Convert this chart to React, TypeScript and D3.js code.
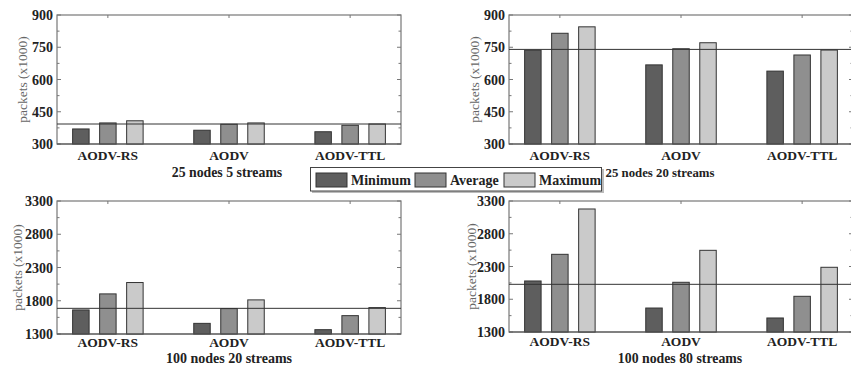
import React, { useEffect, useRef } from "react";
import * as d3 from "d3";

const categories = ["AODV-RS", "AODV", "AODV-TTL"];
const series = ["Minimum", "Average", "Maximum"];
const colors = ["#5e5e5e", "#8f8f8f", "#cacaca"];

const titles = [
  "25 nodes 5 streams",
  "25 nodes 20 streams",
  "100 nodes 20 streams",
  "100 nodes 80 streams",
];

const ticks25 = [300, 450, 600, 750, 900];
const ticks100 = [1300, 1800, 2300, 2800, 3300];

// [min, avg, max] per category
const nodes25s5 = [
  [370, 398, 408],
  [364, 392, 398],
  [357, 387, 393],
];
const nodes25s20 = [
  [736, 815, 845],
  [668, 743, 771],
  [639, 714, 737],
];
const nodes100s20 = [
  [1662, 1903, 2074],
  [1460, 1682, 1813],
  [1365, 1576, 1697],
];
const nodes100s80 = [
  [2079, 2486, 3178],
  [1666, 2059, 2547],
  [1514, 1845, 2288],
];
const refLines = [393, 740, 1686, 2028];

const W = 851;
const H = 366;
const FONT = "'Liberation Serif', 'Times New Roman', serif";

export default function App() {
  const svgRef = useRef<SVGSVGElement>(null);

  useEffect(() => {
    const svg = d3.select(svgRef.current).attr("width", W).attr("height", H);
    svg.selectAll("*").remove();

    const panels = [
      { data: nodes25s5, ticks: ticks25, x0: 57, x1: 401, y0: 15, y1: 144, yl: 22, tx: 227, lblY: 160, subY: 177, subSize: 13.8 },
      { data: nodes25s20, ticks: ticks25, x0: 509, x1: 853, y0: 15, y1: 144, yl: 474, tx: 660, lblY: 160, subY: 177, subSize: 12.8 },
      { data: nodes100s20, ticks: ticks100, x0: 57, x1: 401, y0: 201, y1: 334, yl: 17, tx: 229, lblY: 346.5, subY: 363, subSize: 14 },
      { data: nodes100s80, ticks: ticks100, x0: 509, x1: 853, y0: 201, y1: 332, yl: 471, tx: 680, lblY: 346, subY: 363, subSize: 13.8 },
    ];

    const inner = d3.scaleBand().domain(series).range([-35.25, 35.25]).paddingInner(0.39).paddingOuter(0);

    panels.forEach((p, pi) => {
      const x = d3.scalePoint().domain(categories).range([p.x0, p.x1]).padding(0.42);
      const y = d3
        .scaleLinear()
        .domain([p.ticks[0], p.ticks[p.ticks.length - 1]])
        .range([p.y1, p.y0]);
      const g = svg.append("g");

      // frame
      g.append("rect")
        .attr("x", p.x0)
        .attr("y", p.y0)
        .attr("width", p.x1 - p.x0)
        .attr("height", p.y1 - p.y0)
        .attr("fill", "#fff")
        .attr("stroke", "#777")
        .attr("stroke-width", 1.2);

      // minor + major ticks on left and right
      const step = p.ticks[1] - p.ticks[0];
      const allTicks = d3.range(p.ticks[0], p.ticks[p.ticks.length - 1] + 1, step / 2);
      allTicks.forEach((t, i) => {
        const len = i % 2 === 0 ? 4 : 2.5;
        g.append("line")
          .attr("x1", p.x0).attr("x2", p.x0 + len)
          .attr("y1", y(t)).attr("y2", y(t))
          .attr("stroke", "#777");
        g.append("line")
          .attr("x1", p.x1).attr("x2", p.x1 - len)
          .attr("y1", y(t)).attr("y2", y(t))
          .attr("stroke", "#777");
      });

      // category ticks on top
      categories.forEach((c) => {
        g.append("line")
          .attr("x1", x(c)).attr("x2", x(c))
          .attr("y1", p.y0).attr("y2", p.y0 + 3)
          .attr("stroke", "#777");
      });

      // bars
      p.data.forEach((vals, ci) => {
        vals.forEach((v, si) => {
          const bx = (x(categories[ci]) as number) + (inner(series[si]) as number);
          g.append("rect")
            .attr("x", bx)
            .attr("y", y(v))
            .attr("width", inner.bandwidth())
            .attr("height", p.y1 - y(v))
            .attr("fill", colors[si])
            .attr("stroke", "#333")
            .attr("stroke-width", 1);
        });
      });

      // reference line
      g.append("line")
        .attr("x1", p.x0)
        .attr("x2", p.x1)
        .attr("y1", y(refLines[pi]))
        .attr("y2", y(refLines[pi]))
        .attr("stroke", "#333")
        .attr("stroke-width", 1);

      // bottom axis line darker
      g.append("line")
        .attr("x1", p.x0).attr("x2", p.x1)
        .attr("y1", p.y1).attr("y2", p.y1)
        .attr("stroke", "#555")
        .attr("stroke-width", 1.2);

      // y tick labels
      g.selectAll(".yt")
        .data(p.ticks)
        .enter()
        .append("text")
        .attr("x", p.x0 - 4)
        .attr("y", (d) => y(d) + 5)
        .attr("text-anchor", "end")
        .attr("font-family", FONT)
        .attr("font-size", "14px")
        .attr("font-weight", "bold")
        .attr("fill", "#222")
        .text((d) => d);

      // category labels
      g.selectAll(".xt")
        .data(categories)
        .enter()
        .append("text")
        .attr("x", (d) => x(d) as number)
        .attr("y", p.lblY)
        .attr("text-anchor", "middle")
        .attr("font-family", FONT)
        .attr("font-size", "13.5px")
        .attr("font-weight", "bold")
        .attr("fill", "#222")
        .text((d) => d);

      // subtitle
      g.append("text")
        .attr("x", p.tx)
        .attr("y", p.subY)
        .attr("text-anchor", "middle")
        .attr("font-family", FONT)
        .attr("font-size", p.subSize + "px")
        .attr("font-weight", "bold")
        .attr("fill", "#222")
        .text(titles[pi]);

      // y title
      g.append("text")
        .attr("transform", `translate(${p.yl}, ${(p.y0 + p.y1) / 2}) rotate(-90)`)
        .attr("dy", "0.35em")
        .attr("text-anchor", "middle")
        .attr("font-family", FONT)
        .attr("font-size", "13.5px")
        .attr("fill", "#666")
        .text("packets (x1000)");
    });

    // legend
    const lg = svg.append("g");
    lg.append("rect")
      .attr("x", 312).attr("y", 169)
      .attr("width", 292).attr("height", 24)
      .attr("fill", "#bbb");
    lg.append("rect")
      .attr("x", 310.5).attr("y", 167.5)
      .attr("width", 291).attr("height", 23.5)
      .attr("fill", "#fff")
      .attr("stroke", "#444")
      .attr("stroke-width", 1);
    const swX = [316, 415, 504];
    series.forEach((s, i) => {
      lg.append("rect")
        .attr("x", swX[i]).attr("y", 173)
        .attr("width", 31).attr("height", 14)
        .attr("fill", colors[i])
        .attr("stroke", "#333");
      lg.append("text")
        .attr("x", swX[i] + 35)
        .attr("y", 185)
        .attr("font-family", FONT)
        .attr("font-size", "14px")
        .attr("font-weight", "bold")
        .attr("fill", "#222")
        .text(s);
    });
  }, []);

  return (
    <div style={{ position: "absolute", left: 0, top: 0 }}>
      <svg ref={svgRef} style={{ display: "block" }}></svg>
    </div>
  );
}
